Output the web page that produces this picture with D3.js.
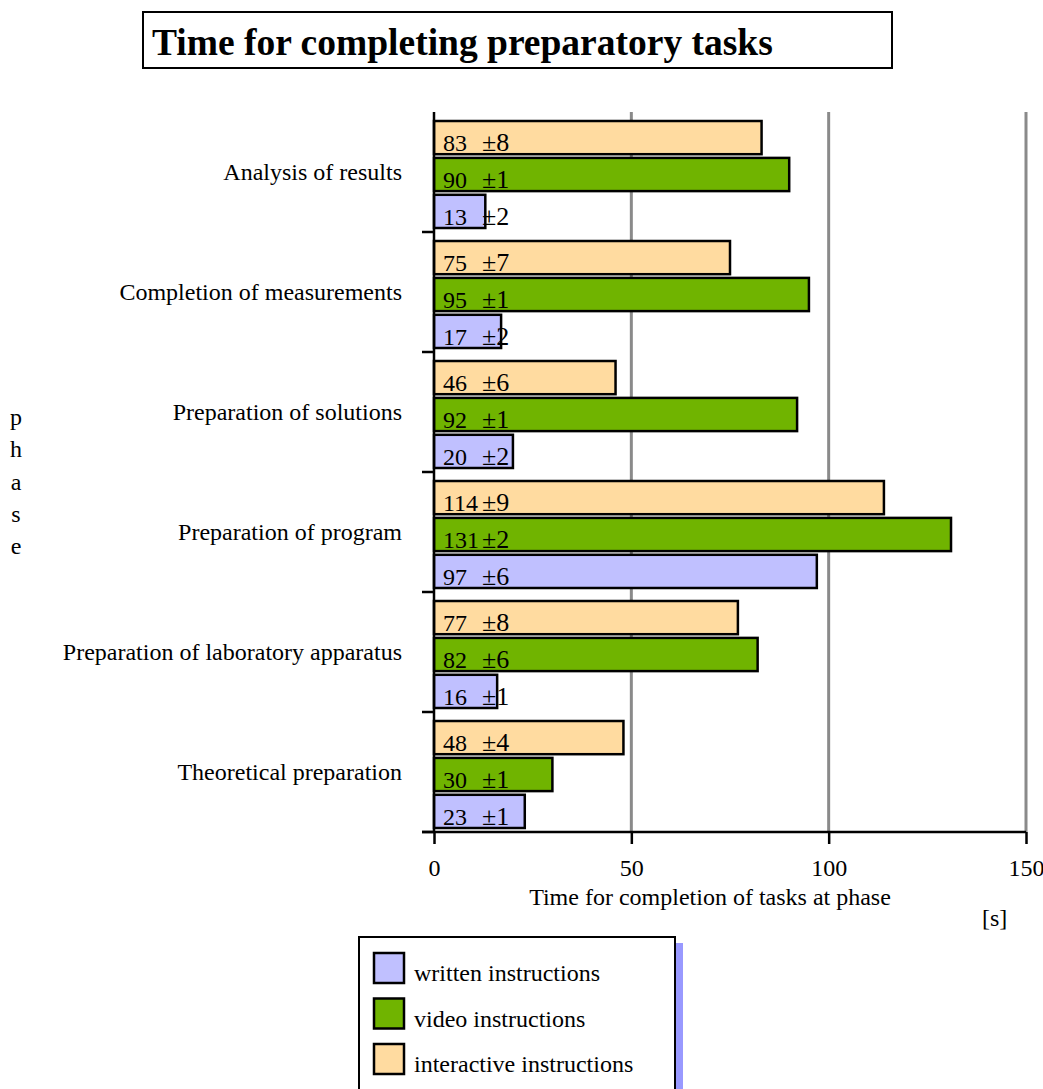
<!DOCTYPE html>
<html>
<head>
<meta charset="utf-8">
<script src="https://cdn.jsdelivr.net/npm/d3@7"></script>
<style>
  html, body { margin: 0; padding: 0; background: #fff; }
  svg { display: block; font-family: "Liberation Serif", "Times New Roman", serif; }
</style>
</head>
<body>
<svg id="chart" width="1043" height="1089"></svg>
<script>
// Phases, listed top to bottom
const phases = [
  "Analysis of results",
  "Completion of measurements",
  "Preparation of solutions",
  "Preparation of program",
  "Preparation of laboratory apparatus",
  "Theoretical preparation"
];

// Mean time per phase [s] and its spread, one array per instruction type
const writtenTime     = [13, 17, 20, 97, 16, 23];
const writtenErr      = [2, 2, 2, 6, 1, 1];
const videoTime       = [90, 95, 92, 131, 82, 30];
const videoErr        = [1, 1, 1, 2, 6, 1];
const interactiveTime = [83, 75, 46, 114, 77, 48];
const interactiveErr  = [8, 7, 6, 9, 8, 4];

const seriesNames = ["written instructions", "video instructions", "interactive instructions"];
const xTicks = [0, 50, 100, 150];

const FONT = 24;

const series = [
  { key: "interactive", name: seriesNames[2], values: interactiveTime, errs: interactiveErr, color: "#ffdba0" },
  { key: "video",       name: seriesNames[1], values: videoTime,       errs: videoErr,       color: "#70b400" },
  { key: "written",     name: seriesNames[0], values: writtenTime,     errs: writtenErr,     color: "#c0c0ff" }
];

const svg = d3.select("#chart");

// Title box
svg.append("rect")
  .attr("x", 143).attr("y", 12).attr("width", 749).attr("height", 56)
  .attr("fill", "#fff").attr("stroke", "#000").attr("stroke-width", 2);
svg.append("text")
  .attr("x", 152).attr("y", 55)
  .attr("font-size", 37.5).attr("font-weight", "bold")
  .text("Time for completing preparatory tasks");

// Scales
const x = d3.scaleLinear().domain([0, 150]).range([434, 1026]);
const y = d3.scaleBand().domain(phases).range([112, 832]);
const inner = d3.scaleBand().domain(series.map(s => s.key))
  .range([9, 116]).paddingInner(0.1);

// Vertical gridlines
svg.append("g").selectAll("line")
  .data(xTicks.filter(t => t > 0))
  .join("line")
  .attr("x1", d => x(d)).attr("x2", d => x(d))
  .attr("y1", 112).attr("y2", 832)
  .attr("stroke", "#8a8a8a").attr("stroke-width", 3);

// Bars
const rows = [];
series.forEach(s => {
  phases.forEach((p, i) => rows.push({ s, phase: p, value: s.values[i], err: s.errs[i] }));
});

svg.append("g").selectAll("rect")
  .data(rows)
  .join("rect")
  .attr("x", x(0))
  .attr("y", d => y(d.phase) + inner(d.s.key))
  .attr("width", d => x(d.value) - x(0))
  .attr("height", inner.bandwidth())
  .attr("fill", d => d.s.color)
  .attr("stroke", "#000").attr("stroke-width", 2.5);

// Value labels inside the bars
const lab = svg.append("g").selectAll("text")
  .data(rows)
  .join("text")
  .attr("x", x(0) + 9)
  .attr("y", d => y(d.phase) + inner(d.s.key) + inner.bandwidth() - 3)
  .attr("font-size", FONT)
  .attr("fill", "#000");
lab.append("tspan").text(d => d.value);
lab.append("tspan")
  .attr("x", x(0) + 48)
  .attr("font-size", 26)
  .text(d => "\u00b1" + d.err);

// Y axis line and band boundary ticks
svg.append("line")
  .attr("x1", x(0)).attr("x2", x(0)).attr("y1", 112).attr("y2", 832)
  .attr("stroke", "#000").attr("stroke-width", 2.5);
svg.append("g").selectAll("line")
  .data(phases)
  .join("line")
  .attr("x1", x(0) - 12).attr("x2", x(0))
  .attr("y1", d => y(d) + y.bandwidth()).attr("y2", d => y(d) + y.bandwidth())
  .attr("stroke", "#000").attr("stroke-width", 2.5);

// Phase labels
svg.append("g").selectAll("text")
  .data(phases)
  .join("text")
  .attr("x", 402)
  .attr("y", d => y(d) + y.bandwidth() / 2 + 8)
  .attr("text-anchor", "end")
  .attr("font-size", FONT)
  .text(d => d);

// X axis
const xAxis = svg.append("g")
  .attr("transform", "translate(0,832)")
  .call(d3.axisBottom(x).tickValues(xTicks).tickSize(12).tickSizeOuter(0));
xAxis.select(".domain").attr("stroke", "#000").attr("stroke-width", 2.5)
  .attr("d", `M${x(0) - 12},0H${x(150)}`);
xAxis.selectAll(".tick line").attr("stroke", "#000").attr("stroke-width", 2.5);
xAxis.selectAll(".tick text")
  .attr("y", 44).attr("dy", 0)
  .attr("font-family", "Liberation Serif, Times New Roman, serif")
  .attr("font-size", FONT).attr("fill", "#000");

// Axis titles
svg.append("text")
  .attr("x", 710).attr("y", 905)
  .attr("text-anchor", "middle").attr("font-size", FONT)
  .text("Time for completion of tasks at phase");
svg.append("text")
  .attr("x", 982).attr("y", 926).attr("font-size", FONT)
  .text("[s]");

// Vertical "phase" label, one letter per line
svg.append("g").selectAll("text")
  .data("phase".split(""))
  .join("text")
  .attr("x", 16)
  .attr("y", (d, i) => 425 + i * 32.3)
  .attr("text-anchor", "middle")
  .attr("font-size", FONT)
  .text(d => d);

// Legend with shadow
const legend = svg.append("g");
legend.append("rect")
  .attr("x", 675).attr("y", 943).attr("width", 8).attr("height", 146)
  .attr("fill", "#9999ff");
legend.append("rect")
  .attr("x", 359).attr("y", 937).attr("width", 316).attr("height", 160)
  .attr("fill", "#fff").attr("stroke", "#000").attr("stroke-width", 2);
const legendItems = [series[2], series[1], series[0]];
const li = legend.selectAll("g.item")
  .data(legendItems)
  .join("g")
  .attr("class", "item")
  .attr("transform", (d, i) => `translate(374,${953 + i * 45.5})`);
li.append("rect")
  .attr("width", 30).attr("height", 30)
  .attr("fill", d => d.color)
  .attr("stroke", "#000").attr("stroke-width", 2.5);
li.append("text")
  .attr("x", 40).attr("y", 28)
  .attr("font-size", FONT)
  .text(d => d.name);
</script>
</body>
</html>
